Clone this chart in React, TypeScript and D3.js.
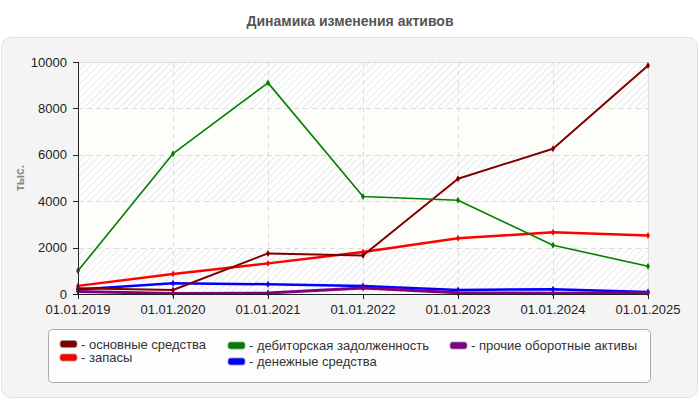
import React from "react";
import * as d3 from "d3";

const years = ["01.01.2019", "01.01.2020", "01.01.2021", "01.01.2022", "01.01.2023", "01.01.2024", "01.01.2025"];
const fixedAssets = [250, 170, 1750, 1660, 4970, 6260, 9850];
const receivables = [1000, 6050, 9100, 4200, 4040, 2100, 1200];
const inventories = [350, 860, 1320, 1810, 2400, 2660, 2520];
const cash = [190, 460, 420, 350, 170, 210, 90];
const otherCurrent = [110, 20, 40, 260, 50, 30, 50];
const yTicks = [0, 2000, 4000, 6000, 8000, 10000];

const seriesNames = ["основные средства", "запасы", "дебиторская задолженность", "денежные средства", "прочие оборотные активы"];
const seriesColors = ["#800000", "#ff0000", "#008000", "#0000ff", "#800080"];

export default function App() {
  const W = 700, H = 400;
  const left = 78, right = 648, top = 62, bottom = 294;
  const x = d3.scalePoint<string>().domain(years).range([left, right]);
  const y = d3.scaleLinear().domain([0, 10000]).range([bottom, top]);
  const line = d3.line<number>().x((_, i) => x(years[i])!).y((v) => y(v));

  const series = [
    { name: seriesNames[0], color: seriesColors[0], data: fixedAssets, w: 2 },
    { name: seriesNames[1], color: seriesColors[1], data: inventories, w: 2.5 },
    { name: seriesNames[2], color: seriesColors[2], data: receivables, w: 1.6 },
    { name: seriesNames[3], color: seriesColors[3], data: cash, w: 2.5 },
    { name: seriesNames[4], color: seriesColors[4], data: otherCurrent, w: 3 },
  ];
  const drawOrder = [3, 4, 1, 0, 2];
  const marker = d3.symbol().type(d3.symbolDiamond).size(14)();

  const legendItems = [
    { i: 0, sx: 60, cy: 344 },
    { i: 1, sx: 60, cy: 357.5 },
    { i: 2, sx: 228, cy: 345.5 },
    { i: 3, sx: 228, cy: 361.5 },
    { i: 4, sx: 450, cy: 345.5 },
  ];

  const bands = [0, 1, 2, 3, 4];

  return (
    <svg width={W} height={H} style={{ position: "absolute", left: 0, top: 0, fontFamily: "'Liberation Sans', Arial, sans-serif" }}>
      <defs>
        <pattern id="hatch" patternUnits="userSpaceOnUse" width="5" height="5" patternTransform="rotate(45)">
          <rect width="5" height="5" fill="#fefefe" />
          <line x1="0" y1="0" x2="0" y2="5" stroke="#e6e6e6" strokeWidth="1.6" />
        </pattern>
      </defs>
      <rect x={0} y={0} width={W} height={H} fill="#ffffff" />
      <text x={350} y={26} textAnchor="middle" fontSize={14} fontWeight="bold" fill="#555">Динамика изменения активов</text>
      <rect x={1.5} y={37.5} width={696} height={360} rx={9} fill="#f4f4f4" stroke="#e2e2e2" />
      {bands.map((b) => (
        <rect key={b} x={left} y={y(10000 - b * 2000)} width={right - left} height={y(0) - y(2000)}
          fill={b % 2 === 0 ? "url(#hatch)" : "#fdfdf9"} />
      ))}
      <line x1={left} x2={right} y1={top + 0.5} y2={top + 0.5} stroke="#ddd" />
      <line x1={right + 0.5} x2={right + 0.5} y1={top} y2={bottom} stroke="#ddd" />
      {yTicks.slice(1, -1).map((t) => (
        <line key={t} x1={left} x2={right} y1={Math.round(y(t)) + 0.5} y2={Math.round(y(t)) + 0.5} stroke="#dcdcdc" strokeDasharray="5,4" />
      ))}
      {years.slice(1, -1).map((d) => (
        <line key={d} x1={Math.round(x(d)!) + 0.5} x2={Math.round(x(d)!) + 0.5} y1={top} y2={bottom} stroke="#dcdcdc" strokeDasharray="5,4" />
      ))}
      {drawOrder.map((k) => {
        const s = series[k];
        return (
          <g key={s.name}>
            <path d={line(s.data) || ""} fill="none" stroke={s.color} strokeWidth={s.w} strokeLinejoin="round" />
            {s.data.map((v, i) => (
              <path key={i} d={marker || ""} transform={`translate(${x(years[i])},${y(v)})`} fill={s.color} />
            ))}
          </g>
        );
      })}
      <line x1={left + 0.5} x2={left + 0.5} y1={top} y2={bottom + 5} stroke="#222" />
      <line x1={left} x2={right} y1={bottom + 0.5} y2={bottom + 0.5} stroke="#222" />
      {yTicks.map((t) => (
        <g key={t}>
          <line x1={left - 5} x2={left} y1={Math.round(y(t)) + 0.5} y2={Math.round(y(t)) + 0.5} stroke="#222" />
          <text x={left - 11} y={y(t)} dy="0.35em" textAnchor="end" fontSize={13} fill="#222">{t}</text>
        </g>
      ))}
      {years.map((d) => (
        <g key={d}>
          <line x1={Math.round(x(d)!) + 0.5} x2={Math.round(x(d)!) + 0.5} y1={bottom} y2={bottom + 5} stroke="#222" />
          <text x={x(d)} y={bottom + 19.5} textAnchor="middle" fontSize={13} fill="#222">{d}</text>
        </g>
      ))}
      <text transform={`translate(24,178) rotate(-90)`} textAnchor="middle" fontSize={12} fontWeight="bold" fill="#888">тыс.</text>
      <rect x={48.5} y={329.5} width={602} height={53} rx={4} fill="#fdfdfd" stroke="#aaa" />
      {legendItems.map((it) => (
        <g key={it.i}>
          <rect x={it.sx} y={it.cy - 3.5} width={17} height={7} rx={2.5} fill={seriesColors[it.i]} stroke="#999" strokeWidth={0.8} />
          <text x={it.sx + 21} y={it.cy} dy="0.35em" fontSize={13} fill="#333">- {seriesNames[it.i]}</text>
        </g>
      ))}
    </svg>
  );
}
